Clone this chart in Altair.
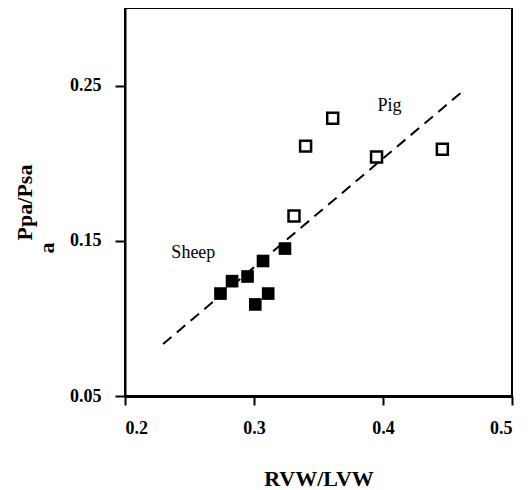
import altair as alt
import pandas as pd

sheep_x = [0.274, 0.283, 0.295, 0.307, 0.324, 0.301, 0.311]
sheep_y = [0.116, 0.124, 0.127, 0.137, 0.145, 0.109, 0.116]
pig_x = [0.331, 0.340, 0.361, 0.395, 0.446]
pig_y = [0.166, 0.211, 0.229, 0.204, 0.209]
fit_x = [0.2295, 0.4633]
fit_y = [0.0835, 0.2474]
label_text = ["Sheep", "Pig"]
label_x = [0.253, 0.405]
label_y = [0.142, 0.237]

font = "Liberation Serif"
xs = alt.Scale(domain=[0.2, 0.5], nice=False, zero=False)
ys = alt.Scale(domain=[0.05, 0.30], nice=False, zero=False)

sheep = pd.DataFrame({"x": sheep_x, "y": sheep_y})
pig = pd.DataFrame({"x": pig_x, "y": pig_y})
fit = pd.DataFrame({"x": fit_x, "y": fit_y})
labels = pd.DataFrame({"t": label_text, "x": label_x, "y": label_y})

xax = alt.X("x:Q", scale=xs, title="RVW/LVW",
            axis=alt.Axis(values=[0.2, 0.3, 0.4, 0.5], format=".1f", grid=False,
                          domainColor="black", domainWidth=3, tickColor="black",
                          tickWidth=2, tickSize=9, labelPadding=14,
                          labelFont=font, labelFontSize=18, labelFontWeight="bold",
                          labelColor="black", titleFont=font, titleFontSize=22,
                          titleFontWeight="bold", titleColor="black", titlePadding=31))
yax = alt.Y("y:Q", scale=ys, title="Ppa/Psa",
            axis=alt.Axis(values=[0.05, 0.15, 0.25], format=".2f", grid=False,
                          domainColor="black", domainWidth=2, tickColor="black",
                          tickWidth=2, tickSize=10, labelPadding=14,
                          labelFont=font, labelFontSize=18, labelFontWeight="bold",
                          labelColor="black", titleFont=font, titleFontSize=22,
                          titleFontWeight="bold", titleColor="black", titlePadding=33))

line = alt.Chart(fit).mark_line(color="black", strokeWidth=2, strokeDash=[11, 7]).encode(x=xax, y=yax)
sp = alt.Chart(sheep).mark_point(shape="square", filled=True, color="black", size=160, opacity=1).encode(x="x:Q", y="y:Q")
pp = alt.Chart(pig).mark_point(shape="square", filled=False, color="black", size=120, strokeWidth=2.5, opacity=1).encode(x="x:Q", y="y:Q")
txt = alt.Chart(labels).mark_text(font=font, fontSize=18, color="black").encode(x="x:Q", y="y:Q", text="t:N")
sub = alt.Chart(pd.DataFrame({"t": ["a"]})).mark_text(font=font, fontSize=22, fontWeight="bold", angle=270, color="black").encode(
    x=alt.value(-78), y=alt.value(240), text="t:N")

chart = (line + sp + pp + txt + sub).properties(
    width=387, height=388,
    autosize=alt.AutoSizeParams(type="none"),
    padding={"left": 117, "top": 0, "right": 10, "bottom": 94},
).configure_view(stroke="black", strokeWidth=2)

chart.save("out.html", embed_options={"renderer": "svg", "actions": False})
